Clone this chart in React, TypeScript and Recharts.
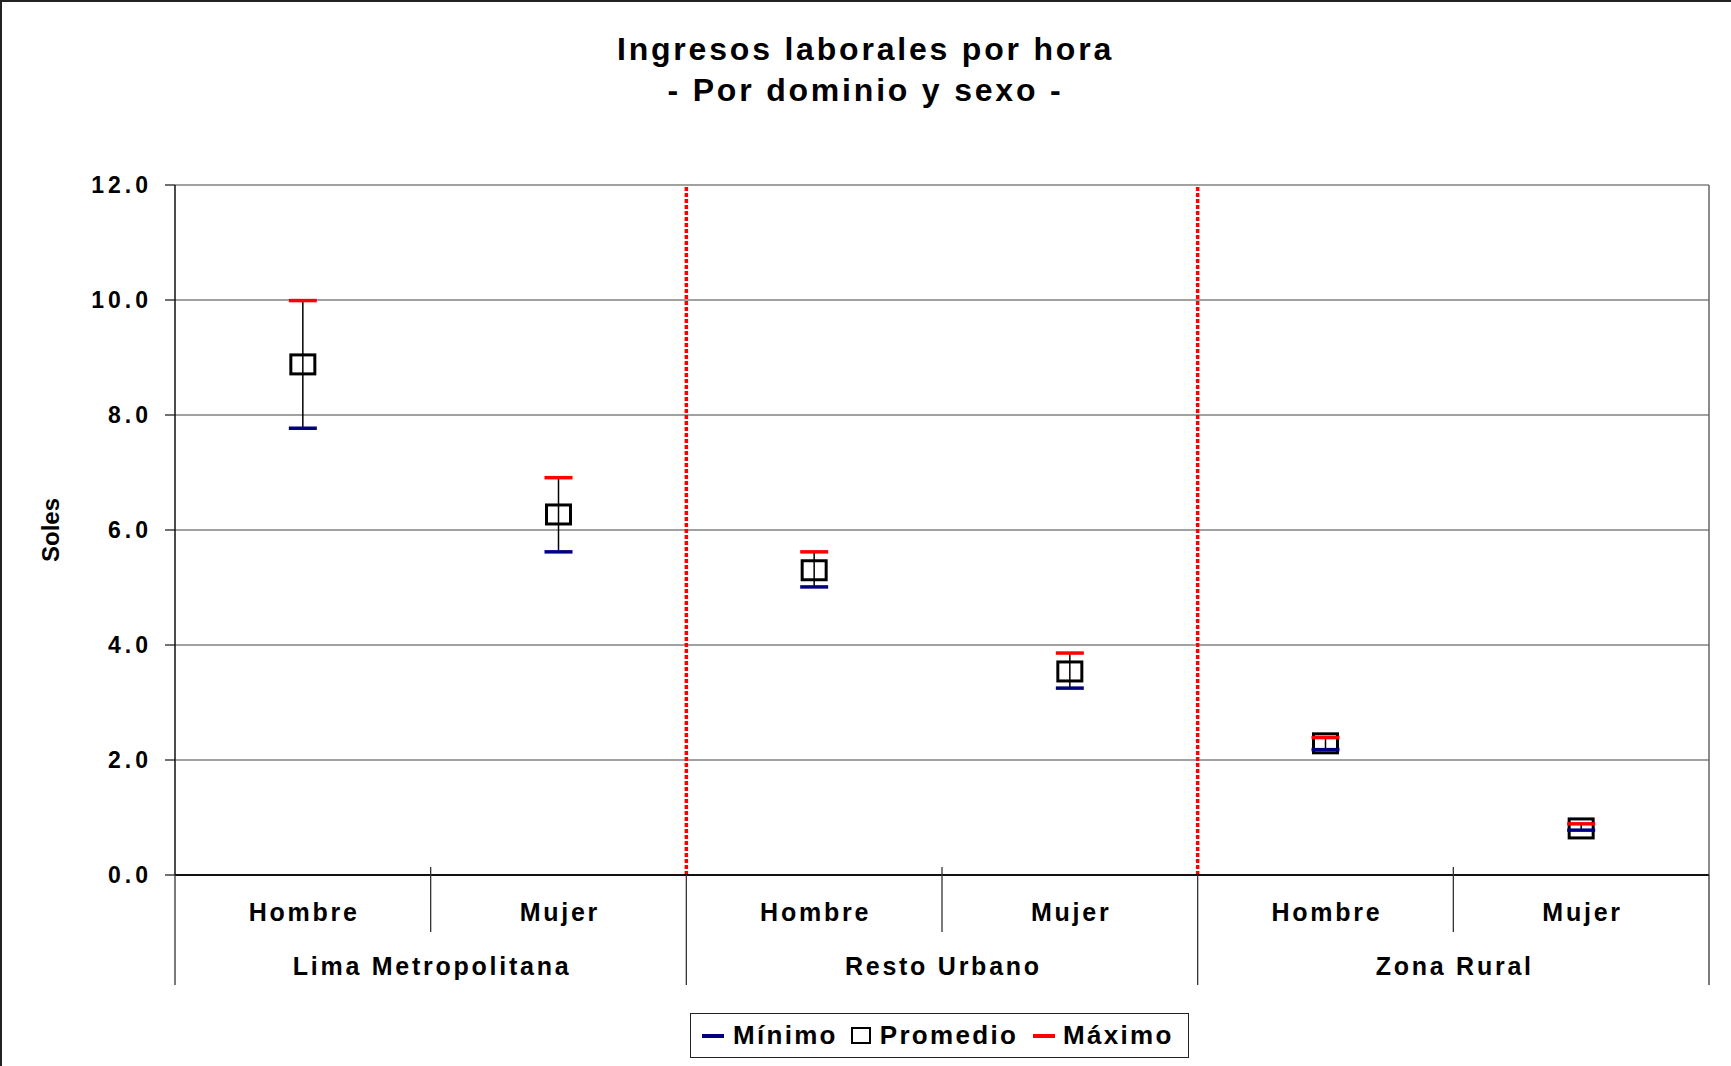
import React from "react";
import {
  CartesianGrid,
  ComposedChart,
  ErrorBar,
  Label,
  Legend,
  ReferenceLine,
  Scatter,
  XAxis,
  YAxis,
} from "recharts";

const sexos = ["Hombre", "Mujer", "Hombre", "Mujer", "Hombre", "Mujer"];
const dominios = ["Lima Metropolitana", "Resto Urbano", "Zona Rural"];
const minimo = [7.77, 5.62, 5.01, 3.25, 2.18, 0.78];
const promedio = [8.88, 6.27, 5.3, 3.54, 2.29, 0.81];
const maximo = [9.99, 6.91, 5.62, 3.86, 2.39, 0.89];
const yTicks = [0, 2, 4, 6, 8, 10, 12];
const xTicks = [0, 0.5, 1, 1.5, 2, 2.5, 3, 3.5, 4, 4.5, 5, 5.5, 6];
const separadores = [2, 4];

const data = sexos.map((s, i) => ({
  x: i + 0.5,
  sexo: s,
  minimo: minimo[i],
  promedio: promedio[i],
  maximo: maximo[i],
  rango: [promedio[i] - minimo[i], maximo[i] - promedio[i]],
}));

const FONT = "'Liberation Sans', Arial, sans-serif";
const AZUL = "#000080";
const ROJO = "#ff0000";

function XTick(props: any) {
  const { x, y, payload } = props;
  const v = payload.value;
  const txt = { fontFamily: FONT, fontWeight: 700, fontSize: 25, letterSpacing: 2.75, fill: "#000" };
  if (Number.isInteger(v)) {
    const largo = v % 2 === 0;
    return (
      <g>
        <line
          x1={x}
          x2={x}
          y1={largo ? y : y - 8}
          y2={largo ? y + 110 : y + 57}
          stroke="#333"
          strokeWidth={1.3}
        />
        {!largo && (
          <text x={x + 1.4} y={y + 100} textAnchor="middle" style={txt}>
            {dominios[(v - 1) / 2]}
          </text>
        )}
      </g>
    );
  }
  return (
    <text x={x + 1.4} y={y + 46} textAnchor="middle" style={txt}>
      {sexos[Math.floor(v)]}
    </text>
  );
}

function YTick(props: any) {
  const { x, y, payload } = props;
  return (
    <text
      x={x + 4}
      y={y}
      textAnchor="end"
      dominantBaseline="central"
      style={{ fontFamily: FONT, fontWeight: 700, fontSize: 23, letterSpacing: 4, fill: "#000" }}
    >
      {payload.value.toFixed(1)}
    </text>
  );
}

const Cuadro = (p: any) => (
  <rect x={p.cx - 12} y={p.cy - 9.5} width={24} height={19} fill="none" stroke="#000" strokeWidth={3} />
);

const tope = (color: string) => (p: any) =>
  <line x1={p.cx - 14} x2={p.cx + 14} y1={p.cy} y2={p.cy} stroke={color} strokeWidth={3.5} />;

function LeyendaCaja() {
  const txt: React.CSSProperties = {
    fontFamily: FONT,
    fontWeight: 700,
    fontSize: 26,
    letterSpacing: 2.3,
    color: "#000",
    lineHeight: "45px",
  };
  return (
    <div
      style={{
        boxSizing: "border-box",
        width: 499,
        height: 45,
        border: "1.5px solid #222",
        background: "#fff",
        display: "flex",
        alignItems: "center",
        paddingLeft: 11,
      }}
    >
      <span style={{ width: 22, height: 4, background: AZUL, marginRight: 9 }} />
      <span style={{ ...txt, marginRight: 13 }}>Mínimo</span>
      <span
        style={{ boxSizing: "border-box", width: 20, height: 17, border: "2px solid #000", marginRight: 9 }}
      />
      <span style={{ ...txt, marginRight: 15 }}>Promedio</span>
      <span style={{ width: 22, height: 4, background: ROJO, marginRight: 8 }} />
      <span style={txt}>Máximo</span>
    </div>
  );
}

export default function App() {
  return (
    <div style={{ position: "absolute", left: 0, top: 0, width: 1731, height: 1066, background: "#fff" }}>
      <div
        style={{
          position: "absolute",
          left: 0,
          top: 29,
          width: 1731,
          textAlign: "center",
          fontFamily: FONT,
          fontWeight: 700,
          fontSize: 32,
          letterSpacing: 2.8,
          lineHeight: "41px",
          color: "#000",
        }}
      >
        <div>Ingresos laborales por hora</div>
        <div>- Por dominio y sexo -</div>
      </div>
      <ComposedChart
        width={1731}
        height={1066}
        data={data}
        margin={{ top: 185, right: 22, bottom: 0, left: 0 }}
      >
        <CartesianGrid vertical={false} stroke="#444" strokeWidth={1.2} />
        <XAxis
          type="number"
          dataKey="x"
          domain={[0, 6]}
          ticks={xTicks}
          interval={0}
          height={191}
          tickSize={0}
          tickMargin={0}
          tickLine={false}
          axisLine={{ stroke: "#111", strokeWidth: 2 }}
          tick={<XTick />}
        />
        <YAxis
          domain={[0, 12]}
          ticks={yTicks}
          interval={0}
          width={175}
          tickSize={10}
          tickMargin={17}
          tickLine={{ stroke: "#111", strokeWidth: 1.2 }}
          axisLine={{ stroke: "#111", strokeWidth: 1.5 }}
          tick={<YTick />}
        >
          <Label
            content={(p: any) => {
              const vb = p.viewBox;
              const cy = vb.y + vb.height / 2;
              return (
                <text
                  x={50}
                  y={cy}
                  transform={`rotate(-90 50 ${cy})`}
                  textAnchor="middle"
                  dominantBaseline="central"
                  style={{ fontFamily: FONT, fontWeight: 700, fontSize: 24, fill: "#000" }}
                >
                  Soles
                </text>
              );
            }}
          />
        </YAxis>
        <ReferenceLine x={6} stroke="#666" strokeWidth={1.5} />
        {separadores.map((s) => (
          <ReferenceLine key={s} x={s} stroke={ROJO} strokeWidth={3.5} strokeDasharray="4 2" />
        ))}
        <Scatter dataKey="promedio" name="Promedio" shape={Cuadro} isAnimationActive={false}>
          <ErrorBar dataKey="rango" direction="y" width={0} stroke="#000" strokeWidth={1.5} />
        </Scatter>
        <Scatter dataKey="minimo" name="Mínimo" shape={tope(AZUL)} isAnimationActive={false} />
        <Scatter dataKey="maximo" name="Máximo" shape={tope(ROJO)} isAnimationActive={false} />
        <Legend
          layout="horizontal"
          verticalAlign="middle"
          align="center"
          wrapperStyle={{ left: 690, top: 1013, width: 499, height: 45 }}
          content={() => <LeyendaCaja />}
        />
      </ComposedChart>
      <div
        style={{
          position: "absolute",
          left: 0,
          top: 0,
          width: 1731,
          height: 1066,
          boxSizing: "border-box",
          borderLeft: "2px solid #222",
          borderTop: "2px solid #222",
          pointerEvents: "none",
        }}
      />
    </div>
  );
}
